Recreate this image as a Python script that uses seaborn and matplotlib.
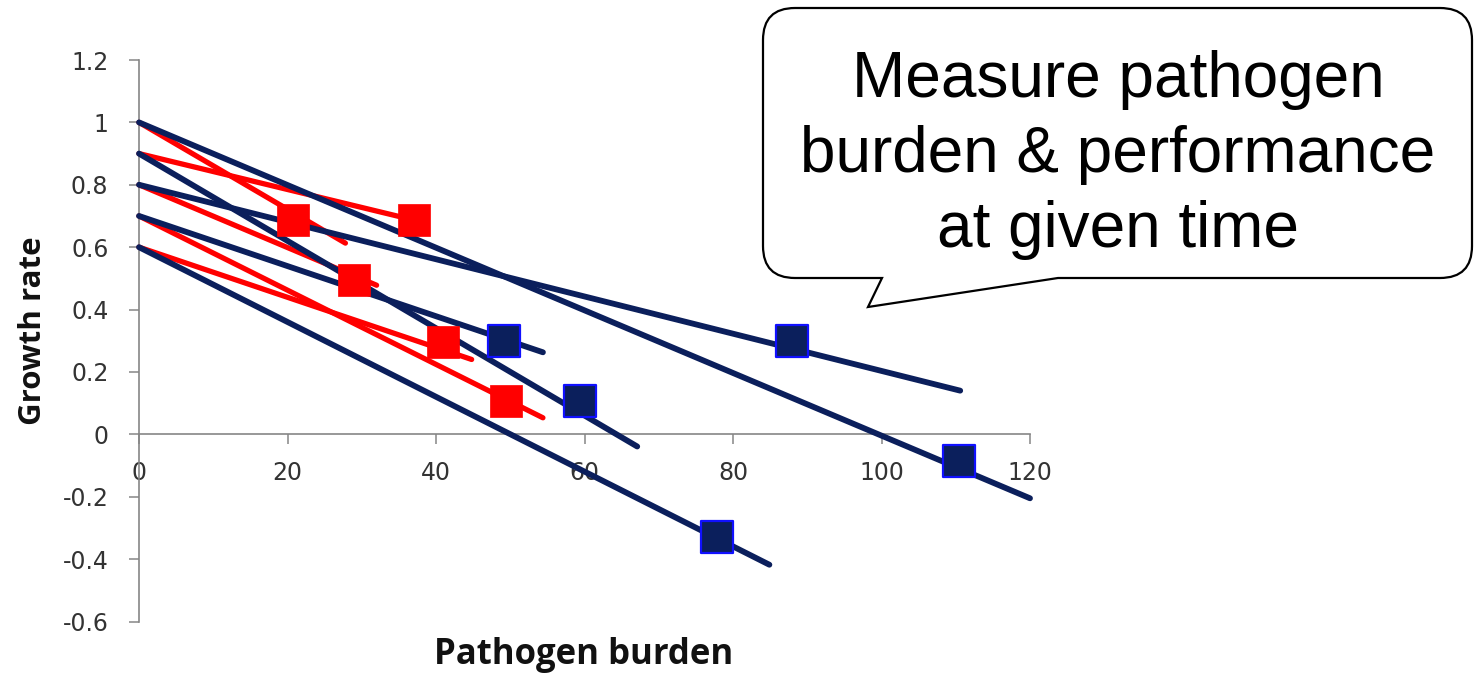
import numpy as np
import pandas as pd
import matplotlib
matplotlib.use("Agg")
import matplotlib.pyplot as plt
import seaborn as sns
from matplotlib.path import Path
from matplotlib.patches import PathPatch

# Navy series: each line starts at zero burden and runs to its end point
blue_start_rate = [1.0, 0.8, 0.9, 0.7, 0.6]
blue_end_burden = [120.0, 110.6, 67.1, 54.4, 84.9]
blue_end_rate = [-0.205, 0.14, -0.039, 0.263, -0.418]
blue_mark_burden = [110.4, 88.0, 59.4, 49.2, 77.8]
blue_mark_rate = [-0.085, 0.30, 0.108, 0.30, -0.328]

# Red series
red_start_rate = [1.0, 0.9, 0.8, 0.7, 0.6]
red_end_burden = [27.8, 37.0, 32.0, 54.4, 44.8]
red_end_rate = [0.613, 0.687, 0.478, 0.053, 0.24]
red_mark_burden = [20.7, 37.0, 28.9, 49.4, 41.0]
red_mark_rate = [0.687, 0.687, 0.494, 0.108, 0.296]

x_ticks = [0, 20, 40, 60, 80, 100, 120]
y_ticks = [-0.6, -0.4, -0.2, 0, 0.2, 0.4, 0.6, 0.8, 1.0, 1.2]
y_tick_labels = ["-0.6", "-0.4", "-0.2", "0", "0.2", "0.4", "0.6", "0.8", "1", "1.2"]

bubble_lines = ["Measure pathogen", "burden & performance", "at given time"]

NAVY = "#0b1f5c"
EDGE_BLUE = "#1010ff"
RED = "#ff0000"
AXIS_GREY = "#868686"


def segments(start_rate, end_burden, end_rate):
    rows = []
    for i, (s, eb, er) in enumerate(zip(start_rate, end_burden, end_rate)):
        rows.append({"line": i, "burden": 0.0, "rate": s})
        rows.append({"line": i, "burden": eb, "rate": er})
    return pd.DataFrame(rows)


blue_df = segments(blue_start_rate, blue_end_burden, blue_end_rate)
red_df = segments(red_start_rate, red_end_burden, red_end_rate)
blue_pts = pd.DataFrame({"burden": blue_mark_burden, "rate": blue_mark_rate})
red_pts = pd.DataFrame({"burden": red_mark_burden, "rate": red_mark_rate})

sns.set_theme(style="white")
plt.rcParams["font.family"] = ["DejaVu Sans"]
plt.rcParams["axes.unicode_minus"] = False

W, H = 1480, 675
fig = plt.figure(figsize=(W / 100, H / 100), dpi=100)
ax = fig.add_axes([139 / W, 1 - 621.5 / H, 891 / W, 561.5 / H])

sns.lineplot(data=red_df, x="burden", y="rate", units="line", estimator=None,
             sort=False, color=RED, linewidth=3.8, ax=ax, legend=False,
             solid_capstyle="round", zorder=3)
sns.lineplot(data=blue_df, x="burden", y="rate", units="line", estimator=None,
             sort=False, color=NAVY, linewidth=4.2, ax=ax, legend=False,
             solid_capstyle="round", zorder=4)
sns.scatterplot(data=red_pts, x="burden", y="rate", marker="s", s=540,
                color=RED, edgecolor=RED, linewidth=0.5, ax=ax, zorder=5,
                legend=False)
sns.scatterplot(data=blue_pts, x="burden", y="rate", marker="s", s=500,
                color=NAVY, edgecolor=EDGE_BLUE, linewidth=1.6, ax=ax, zorder=6,
                legend=False)

for coll in ax.collections + ax.lines:
    coll.set_clip_on(False)

ax.set_xlim(0, 120)
ax.set_ylim(-0.6, 1.2)
ax.set_xticks(x_ticks)
ax.set_xticklabels([str(t) for t in x_ticks])
ax.set_yticks(y_ticks)
ax.set_yticklabels(y_tick_labels)

ax.spines["top"].set_visible(False)
ax.spines["right"].set_visible(False)
ax.spines["bottom"].set_position(("data", 0))
for side in ("left", "bottom"):
    ax.spines[side].set_color(AXIS_GREY)
    ax.spines[side].set_linewidth(1.2)

ax.tick_params(axis="x", bottom=True, direction="out", length=7, width=1.1,
               color=AXIS_GREY, pad=12, labelsize=17, labelcolor="#333333")
ax.tick_params(axis="y", left=True, direction="out", length=7, width=1.1,
               color=AXIS_GREY, pad=15, labelsize=17, labelcolor="#333333")

ax.set_xlabel("Pathogen burden", family="Open Sans", weight="bold", size=25,
              color="#111111", va="center")
ax.set_ylabel("Growth rate", family="Open Sans", weight="bold", size=22.5,
              color="#111111", va="center")
ax.xaxis.set_label_coords((584 - 139) / 891, (621.5 - 655) / 561.5)
ax.yaxis.set_label_coords((33 - 139) / 891, (621.5 - 331) / 561.5)

# Speech bubble with rounded corners and a tail pointing at the chart
def fx(px):
    return px / W


def fy(py):
    return 1 - py / H


L, R, T, B, r = 763, 1472, 8, 278, 32
verts = [
    (L + r, T), (R - r, T), (R, T), (R, T + r), (R, B - r), (R, B), (R - r, B),
    (1058, B), (868, 307), (882, B), (L + r, B), (L, B), (L, B - r),
    (L, T + r), (L, T), (L + r, T), (L + r, T),
]
codes = [
    Path.MOVETO, Path.LINETO, Path.CURVE3, Path.CURVE3, Path.LINETO, Path.CURVE3,
    Path.CURVE3, Path.LINETO, Path.LINETO, Path.LINETO, Path.LINETO, Path.CURVE3,
    Path.CURVE3, Path.LINETO, Path.CURVE3, Path.CURVE3, Path.CLOSEPOLY,
]
bubble = Path([(fx(x), fy(y)) for x, y in verts], codes)
fig.patches.append(PathPatch(bubble, transform=fig.transFigure, facecolor="white",
                             edgecolor="black", linewidth=1.6, zorder=10))

for text, base in zip(bubble_lines, [97, 172, 247]):
    fig.text(fx(1118), fy(base), text, ha="center", va="baseline",
             family="Liberation Sans", fontsize=46, color="black", zorder=11)

fig.savefig("out.png", dpi=100)
